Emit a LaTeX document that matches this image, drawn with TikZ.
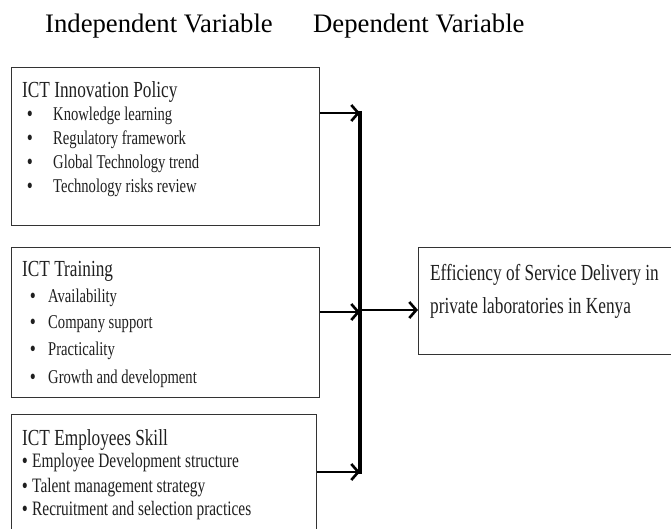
\documentclass[tikz,border=0pt]{standalone}
\usepackage{fontspec}
\setmainfont{Liberation Serif}
\newfontfamily\boxfont[FakeStretch=0.75]{Liberation Serif}
\usetikzlibrary{arrows.meta}
\begin{document}
\begin{tikzpicture}[x=1pt,y=-1pt,
  boxstyle/.style={draw=black!80, line width=1.2pt, inner sep=0pt, anchor=north west},
  headtext/.style={anchor=base west, inner sep=0pt, font=\fontsize{26.7}{26.7}\selectfont},
  titletext/.style={anchor=base west, inner sep=0pt, text=black!88, font=\boxfont\fontsize{23}{23}\selectfont},
  itemtext/.style={anchor=base west, inner sep=0pt, text=black!88, font=\boxfont\fontsize{19.5}{19.5}\selectfont},
  smallitem/.style={anchor=base west, inner sep=0pt, text=black!88, font=\boxfont\fontsize{20.5}{20.5}\selectfont},
  bul/.style={anchor=base, inner sep=0pt, text=black!88, font=\boxfont\fontsize{23}{23}\selectfont},
  arr/.style={line width=2.6pt, -{Straight Barb[length=7pt,width=16pt,line width=2.6pt]}},
  barline/.style={line width=4pt}
]
\useasboundingbox (0,0) rectangle (671,529);
\begin{scope}
\clip (0,0) rectangle (671,529);

% headings
\node[headtext] (h1) at (45,33) {Independent Variable};
\node[headtext] (h2) at (313,33) {Dependent Variable};

% boxes
\node[boxstyle, minimum width=308pt, minimum height=158pt] (b1) at (11,67) {};
\node[boxstyle, minimum width=308pt, minimum height=150pt] (b2) at (11,247) {};
\node[boxstyle, minimum width=305pt, minimum height=140pt] (b3) at (11,414) {};
\node[boxstyle, minimum width=280pt, minimum height=107pt] (b4) at (418,247) {};

% box 1 text
\node[titletext] (t1) at (22,98) {ICT Innovation Policy};
\node[bul] (u11) at (30,122) {\textbullet};
\node[itemtext] (i11) at (53,121) {Knowledge learning};
\node[bul] (u12) at (30,146) {\textbullet};
\node[itemtext] (i12) at (53,145) {Regulatory framework};
\node[bul] (u13) at (30,170) {\textbullet};
\node[itemtext] (i13) at (53,169) {Global Technology trend};
\node[bul] (u14) at (30,194) {\textbullet};
\node[itemtext] (i14) at (53,193) {Technology risks review};

% box 2 text
\node[titletext] (t2) at (22,276) {ICT Training};
\node[bul] (u21) at (33,303) {\textbullet};
\node[itemtext] (i21) at (48,302) {Availability};
\node[bul] (u22) at (33,329) {\textbullet};
\node[itemtext] (i22) at (48,328) {Company support};
\node[bul] (u23) at (33,356) {\textbullet};
\node[itemtext] (i23) at (48,355) {Practicality};
\node[bul] (u24) at (33,384) {\textbullet};
\node[itemtext] (i24) at (48,383) {Growth and development};

% box 3 text
\node[titletext] (t3) at (22,445) {ICT Employees Skill};
\node[bul] (u31) at (25,468) {\textbullet};
\node[smallitem] (i31) at (32,467) {Employee Development structure};
\node[bul] (u32) at (25,493) {\textbullet};
\node[smallitem] (i32) at (32,492) {Talent management strategy};
\node[bul] (u33) at (25,516) {\textbullet};
\node[smallitem] (i33) at (32,515) {Recruitment and selection practices};

% box 4 text
\node[titletext] (t4) at (430,280) {Efficiency of Service Delivery in};
\node[titletext] (t5) at (430,313) {private laboratories in Kenya};

% connectors
\coordinate (bt) at (360,111);
\coordinate (bb) at (360,474);
\coordinate (j1) at (360,113);
\coordinate (j2) at (360,312);
\coordinate (j3) at (360,472);
\coordinate (jo) at (360,310);
\draw[barline] (bt) -- (bb);
\draw[arr] (b1.east |- j1) -- (j1);
\draw[arr] (b2.east |- j2) -- (j2);
\draw[arr] (b3.east |- j3) -- (j3);
\draw[arr] (jo) -- (b4.west |- jo);
\end{scope}
\end{tikzpicture}
\end{document}
